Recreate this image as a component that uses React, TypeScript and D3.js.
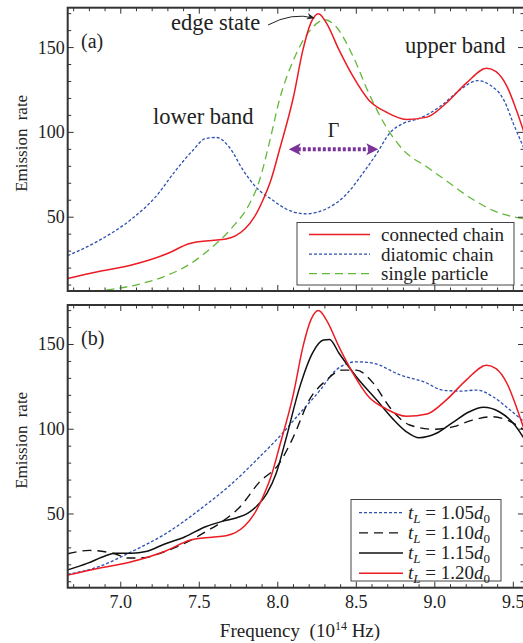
import {useEffect, useRef} from 'react'
import * as d3 from 'd3'

// top panel (a)
const connX = [6.662, 6.86, 7.05, 7.29, 7.44, 7.58, 7.67, 7.73, 7.79, 7.85, 7.90, 7.96, 8.01, 8.10, 8.16, 8.21, 8.26, 8.31, 8.39, 8.48, 8.58, 8.69, 8.82, 8.95, 9.07, 9.20, 9.33, 9.39, 9.46, 9.52, 9.568]
const connY = [13.9, 18, 21.4, 28.3, 34.5, 36.3, 37.2, 39, 43, 50, 59, 73, 89.5, 121, 148.6, 164.4, 170, 164.4, 148.6, 132.8, 119, 112, 107.6, 109, 117, 129, 137.8, 135.8, 127, 113, 100]

const diaX = [6.662, 6.86, 7.07, 7.22, 7.35, 7.46, 7.54, 7.61, 7.69, 7.78, 7.86, 7.97, 8.05, 8.18, 8.31, 8.44, 8.54, 8.63, 8.71, 8.80, 8.90, 9.03, 9.16, 9.27, 9.35, 9.44, 9.50, 9.568]
const diaY = [27.3, 36.2, 49, 61.8, 77.6, 89.5, 96.4, 97, 91.4, 77.6, 67.8, 59.9, 55, 52, 55, 63.8, 75.7, 87.5, 99.3, 105.3, 108.2, 115, 125, 130.5, 128, 119, 105.3, 90.5]

const singleX = [6.662, 6.80, 6.95, 7.12, 7.29, 7.44, 7.58, 7.71, 7.82, 7.88, 7.95, 8.01, 8.10, 8.20, 8.30, 8.37, 8.48, 8.58, 8.69, 8.80, 8.95, 9.07, 9.22, 9.37, 9.568]
const singleY = [4.5, 6, 7.6, 10.6, 15.5, 22.4, 32.2, 44, 57.9, 70.7, 95.4, 119, 142.7, 159.5, 166.4, 162.4, 144.7, 123, 103.3, 89.5, 79.6, 71.7, 61.8, 54, 49]

// bottom panel (b)
const t105X = [6.662, 6.86, 7.07, 7.29, 7.50, 7.71, 7.88, 8.01, 8.14, 8.27, 8.37, 8.50, 8.61, 8.78, 8.93, 9.05, 9.16, 9.27, 9.37, 9.48, 9.568]
const t105Y = [14.4, 18.9, 27.8, 38.6, 52.4, 68.1, 83.3, 95.6, 109.4, 123.1, 134.9, 139.8, 138.9, 132, 128, 123.1, 122.5, 123.1, 119.2, 111.3, 104.4]

const t110X = [6.662, 6.80, 6.95, 7.05, 7.15, 7.25, 7.36, 7.47, 7.55, 7.63, 7.76, 7.88, 8.01, 8.10, 8.20, 8.31, 8.41, 8.50, 8.61, 8.71, 8.84, 8.99, 9.12, 9.24, 9.37, 9.46, 9.568]
const t110Y = [26.5, 28.5, 26.8, 24.0, 24.2, 26.8, 30.7, 35.7, 40, 44.5, 54.3, 68.5, 79.9, 95.6, 117.2, 129, 134.9, 134.9, 127, 113.3, 102.5, 100, 101.5, 105.4, 107.4, 105.4, 99.5]

const t115X = [6.662, 6.79, 6.90, 6.96, 7.07, 7.16, 7.28, 7.41, 7.54, 7.64, 7.74, 7.81, 7.87, 7.93, 7.99, 8.05, 8.14, 8.22, 8.29, 8.33, 8.39, 8.50, 8.63, 8.73, 8.82, 8.90, 9.01, 9.12, 9.22, 9.31, 9.41, 9.50, 9.568]
const t115Y = [17, 21, 25.2, 26.8, 26.8, 27.8, 32.3, 36.6, 42.5, 45.5, 47.8, 50.5, 55, 62, 74, 93.6, 125, 144.8, 152.6, 153, 144.8, 131, 117.2, 106.4, 98.5, 95, 97.6, 104.4, 110.3, 112.9, 110.3, 103.5, 94.6]

const xTicks = [7.0, 7.5, 8.0, 8.5, 9.0, 9.5]
const yTicks = [50, 100, 150]
const topLegend = ['connected chain', 'diatomic chain', 'single particle']
const bottomLegend = ['1.05', '1.10', '1.15', '1.20']

const RED = '#ec1c24'
const BLUE = '#2d4fb0'
const GREEN = '#62b83a'
const BLACK = '#111'
const PURPLE = '#7a3398'
const FRAME = '#333'
const FONT = '"Liberation Serif", "DejaVu Serif", serif'

function App(){
    const svg = useRef(null)

    useEffect(() => {
        const root = d3.select(svg.current)
        root.selectAll('*').remove()

        const x = d3.scaleLinear().domain([6.662, 9.568]).range([67.7, 524])

        const defs = root.append('defs')
        defs.append('marker')
            .attr('id', 'arrowBlack')
            .attr('viewBox', '0 0 10 10')
            .attr('refX', 9).attr('refY', 5)
            .attr('markerWidth', 8).attr('markerHeight', 8)
            .attr('markerUnits', 'userSpaceOnUse')
            .attr('orient', 'auto')
            .append('path').attr('d', 'M0,1 L10,5 L0,9 L3,5 Z').attr('fill', '#222')

        const panel = (id, top, bottom, yMax) => {
            const y = d3.scaleLinear().domain([6.5, yMax]).range([bottom, top])
            defs.append('clipPath').attr('id', id)
                .append('rect').attr('x', x.range()[0]).attr('y', top)
                .attr('width', x.range()[1] - x.range()[0]).attr('height', bottom - top)
            const g = root.append('g')
            const plot = g.append('g').attr('clip-path', `url(#${id})`)

            // ticks on all four sides, pointing inward
            const xMinor = d3.range(6.7, 9.57, 0.1).map(v => Math.round(v * 10) / 10)
            xMinor.forEach(v => {
                const major = Math.abs(v * 2 - Math.round(v * 2)) < 1e-6
                const len = major ? 6 : 3.5
                g.append('line').attr('x1', x(v)).attr('x2', x(v)).attr('y1', bottom).attr('y2', bottom - len).attr('stroke', FRAME).attr('stroke-width', 1)
                g.append('line').attr('x1', x(v)).attr('x2', x(v)).attr('y1', top).attr('y2', top + len).attr('stroke', FRAME).attr('stroke-width', 1)
            })
            d3.range(10, yMax, 10).forEach(v => {
                const len = v % 50 === 0 ? 6 : 3.5
                g.append('line').attr('x1', x.range()[0]).attr('x2', x.range()[0] + len).attr('y1', y(v)).attr('y2', y(v)).attr('stroke', FRAME).attr('stroke-width', 1)
                g.append('line').attr('x1', x.range()[1]).attr('x2', x.range()[1] - len).attr('y1', y(v)).attr('y2', y(v)).attr('stroke', FRAME).attr('stroke-width', 1)
            })
            yTicks.forEach(v => {
                g.append('text')
                    .attr('x', x.range()[0] - 3).attr('y', y(v))
                    .attr('text-anchor', 'end').attr('dominant-baseline', 'central')
                    .style('font', `18px ${FONT}`).attr('fill', '#222')
                    .text(v)
            })
            g.append('text')
                .attr('transform', `translate(27,${(top + bottom) / 2 - 6}) rotate(-90)`)
                .attr('text-anchor', 'middle')
                .style('font', `17px ${FONT}`).style('word-spacing', '4px').attr('fill', '#222')
                .text('Emission rate')

            const draw = (xs, ys, color, dash, width = 1.4) => {
                const line = d3.line()
                    .x((d, i) => x(xs[i]))
                    .y(d => y(d))
                    .curve(d3.curveMonotoneX)
                plot.append('path')
                    .attr('d', line(ys))
                    .attr('fill', 'none')
                    .attr('stroke', color)
                    .attr('stroke-width', width)
                    .attr('stroke-dasharray', dash)
            }
            return {g, y, draw, frame: () => g.append('rect')
                .attr('x', x.range()[0]).attr('y', top)
                .attr('width', x.range()[1] - x.range()[0]).attr('height', bottom - top)
                .attr('fill', 'none').attr('stroke', FRAME).attr('stroke-width', 2)}
        }

        // ---------- panel (a)
        const a = panel('clipA', 7.7, 291, 173.5)
        a.draw(singleX, singleY, GREEN, '8,5', 1.3)
        a.draw(diaX, diaY, BLUE, '3,2', 1.3)
        a.draw(connX, connY, RED, null, 1.5)
        a.frame()

        a.g.append('text').attr('x', 81).attr('y', 48).style('font', `20px ${FONT}`).attr('fill', '#222').text('(a)')
        a.g.append('text').attr('x', 171).attr('y', 30).style('font', `22.5px ${FONT}`).attr('fill', '#222').text('edge state')
        a.g.append('text').attr('x', 153).attr('y', 124).style('font', `22.5px ${FONT}`).attr('fill', '#222').text('lower band')
        a.g.append('text').attr('x', 405).attr('y', 53).style('font', `22.5px ${FONT}`).attr('fill', '#222').text('upper band')
        a.g.append('path')
            .attr('d', 'M268,25 Q292,12 314,18')
            .attr('fill', 'none').attr('stroke', '#222').attr('stroke-width', 1)
            .attr('marker-end', 'url(#arrowBlack)')

        // Γ arrow
        const gy = a.y(90)
        const gx1 = x(8.07), gx2 = x(8.64)
        a.g.append('line')
            .attr('x1', gx1 + 9).attr('x2', gx2 - 9).attr('y1', gy).attr('y2', gy)
            .attr('stroke', PURPLE).attr('stroke-width', 4).attr('stroke-dasharray', '3,2')
        a.g.append('path').attr('d', `M${gx1},${gy} L${gx1 + 12},${gy - 6} L${gx1 + 9},${gy} L${gx1 + 12},${gy + 6} Z`).attr('fill', PURPLE)
        a.g.append('path').attr('d', `M${gx2},${gy} L${gx2 - 12},${gy - 6} L${gx2 - 9},${gy} L${gx2 - 12},${gy + 6} Z`).attr('fill', PURPLE)
        a.g.append('text').attr('x', (gx1 + gx2) / 2).attr('y', gy - 12).attr('text-anchor', 'middle')
            .style('font', `20px ${FONT}`).attr('fill', '#222').text('Γ')

        // legend (a)
        a.g.append('rect').attr('x', 297).attr('y', 222.5).attr('width', 217).attr('height', 62.5)
            .attr('fill', 'white').attr('stroke', '#444').attr('stroke-width', 1)
        const legA = [[RED, null, 1.5], [BLUE, '3,2', 1.3], [GREEN, '8,5', 1.3]]
        topLegend.forEach((name, i) => {
            const ly = 234.5 + i * 19.6
            a.g.append('line').attr('x1', 309).attr('x2', 370).attr('y1', ly).attr('y2', ly)
                .attr('stroke', legA[i][0]).attr('stroke-width', legA[i][2]).attr('stroke-dasharray', legA[i][1])
            a.g.append('text').attr('x', 381).attr('y', ly).attr('dominant-baseline', 'central')
                .style('font', `19px ${FONT}`).attr('fill', '#222').text(name)
        })

        // ---------- panel (b)
        const b = panel('clipB', 305, 587.7, 173.3)
        b.draw(t105X, t105Y, BLUE, '3,2', 1.3)
        b.draw(t110X, t110Y, BLACK, '9,6', 1.4)
        b.draw(t115X, t115Y, BLACK, null, 1.5)
        b.draw(connX, connY, RED, null, 1.5)
        b.frame()

        b.g.append('text').attr('x', 81).attr('y', 345).style('font', `20px ${FONT}`).attr('fill', '#222').text('(b)')

        xTicks.forEach(v => {
            b.g.append('text').attr('x', x(v)).attr('y', 608).attr('text-anchor', 'middle')
                .style('font', `18px ${FONT}`).attr('fill', '#222').text(v.toFixed(1))
        })
        const xl = b.g.append('text').attr('x', 300).attr('y', 637).attr('text-anchor', 'middle')
            .style('font', `19px ${FONT}`).attr('fill', '#222')
        xl.append('tspan').text('Frequency\u00a0\u00a0(10')
        xl.append('tspan').attr('dy', -7).style('font-size', '12px').text('14')
        xl.append('tspan').attr('dy', 7).text('\u00a0Hz)')

        // legend (b)
        b.g.append('rect').attr('x', 351).attr('y', 499.5).attr('width', 150).attr('height', 81.5)
            .attr('fill', 'white').attr('stroke', '#444').attr('stroke-width', 1)
        const legB = [[BLUE, '3,2', 1.3], [BLACK, '9,6', 1.4], [BLACK, null, 1.5], [RED, null, 1.5]]
        bottomLegend.forEach((val, i) => {
            const ly = 512.7 + i * 20.2
            b.g.append('line').attr('x1', 359).attr('x2', 403).attr('y1', ly).attr('y2', ly)
                .attr('stroke', legB[i][0]).attr('stroke-width', legB[i][2]).attr('stroke-dasharray', legB[i][1])
            const t = b.g.append('text').attr('x', 408).attr('y', ly + 6)
                .style('font', `19px ${FONT}`).attr('fill', '#222')
            t.append('tspan').style('font-style', 'italic').text('t')
            t.append('tspan').style('font-style', 'italic').style('font-size', '13px').attr('dy', 4).text('L')
            t.append('tspan').attr('dy', -4).text(` = ${val}`)
            t.append('tspan').style('font-style', 'italic').text('d')
            t.append('tspan').style('font-size', '13px').attr('dy', 4).text('0')
        })
    }, [])

    return (
        <svg ref={svg} width={523} height={643}
            style={{position: 'absolute', left: 0, top: 0, background: 'white'}}></svg>
    )
}

export default App
